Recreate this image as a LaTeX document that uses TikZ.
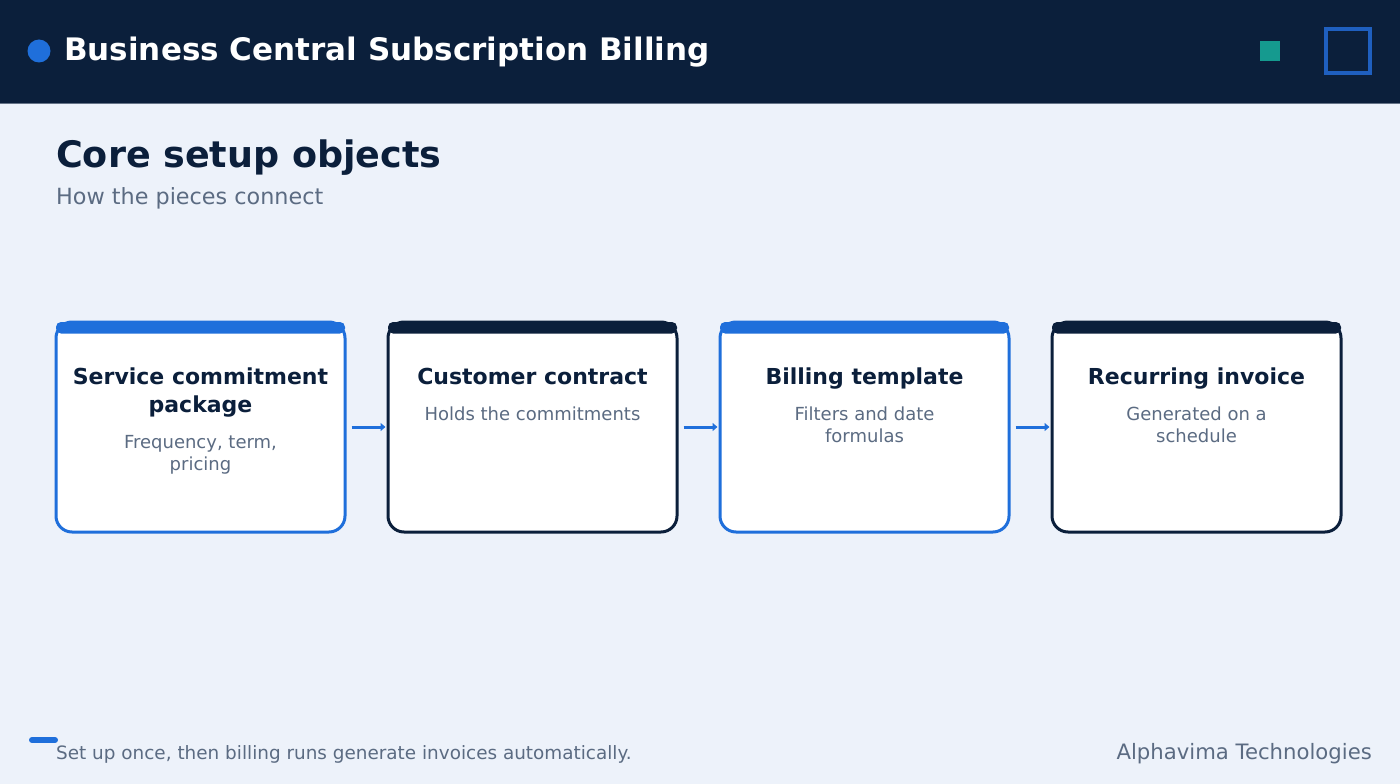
\documentclass[tikz,border=0pt]{standalone}
\usepackage{fontspec}
\setmainfont{DejaVu Sans}
\usetikzlibrary{arrows.meta}
\definecolor{navy}{HTML}{0B1F3B}
\definecolor{bg}{HTML}{EDF2FA}
\definecolor{accent}{HTML}{1F6FDB}
\definecolor{teal}{HTML}{159A8F}
\definecolor{sqblue}{HTML}{1F5FBF}
\definecolor{muted}{HTML}{5B6B82}
\tikzset{
  card/.style={draw=#1, line width=3pt, fill=white, rounded corners=16pt, minimum width=289pt, minimum height=210pt, inner sep=0pt},
  ctitle/.style={font=\fontsize{22}{28}\selectfont\bfseries, text=navy, align=center, anchor=base, inner sep=0pt},
  csub/.style={font=\fontsize{18}{22}\selectfont, text=muted, align=center, anchor=base, inner sep=0pt},
  conn/.style={draw=accent, line width=3pt, -{Triangle[length=5pt,width=8pt]}},
}
\begin{document}
\begin{tikzpicture}[x=1pt,y=-1pt]
\useasboundingbox (0,0) rectangle (1400,784);
\fill[bg] (0,0) rectangle (1400,784);
% header
\fill[navy] (0,0) rectangle (1400,103);
\draw[color=navy!60!bg, line width=1pt] (0,103.5) -- (1400,103.5);
\fill[accent] (39,51) circle (11.5);
\node[anchor=base west, inner sep=0pt, text=white, font=\fontsize{31}{36}\selectfont\bfseries] (htitle) at (64,61) {Business Central Subscription Billing};
\fill[teal] (1260,41) rectangle (1280,61);
\draw[sqblue, line width=4pt] (1326,29) rectangle (1370,73);
% headings
\node[anchor=base west, inner sep=0pt, text=navy, font=\fontsize{36.5}{42}\selectfont\bfseries] (title) at (56,167) {Core setup objects};
\node[anchor=base west, inner sep=0pt, text=muted, font=\fontsize{22.3}{26}\selectfont] (sub) at (56,204) {How the pieces connect};
% cards
\foreach \i/\x/\c in {1/200.5/accent, 2/532.5/navy, 3/864.5/accent, 4/1196.5/navy}{
  \node[card=\c] (c\i) at (\x,427) {};
  \fill[\c, rounded corners=5pt] (\x-144.5,322) rectangle (\x+144.5,333.5);
}
\node[ctitle] (t1) at (200.5,412) {Service commitment\\package};
\node[csub] (s1) at (200.5,470) {Frequency, term,\\pricing};
\node[ctitle] (t2) at (532.5,384) {Customer contract};
\node[csub] (s2) at (532.5,420) {Holds the commitments};
\node[ctitle] (t3) at (864.5,384) {Billing template};
\node[csub] (s3) at (864.5,442) {Filters and date\\formulas};
\node[ctitle] (t4) at (1196.5,384) {Recurring invoice};
\node[csub] (s4) at (1196.5,442) {Generated on a\\schedule};
% connectors
\draw[conn] ([xshift=5pt]c1.east) -- ([xshift=-1pt]c2.west);
\draw[conn] ([xshift=5pt]c2.east) -- ([xshift=-1pt]c3.west);
\draw[conn] ([xshift=5pt]c3.east) -- ([xshift=-1pt]c4.west);
% footer
\draw[accent, line width=6pt, line cap=round] (32,740) -- (55,740);
\node[anchor=base west, inner sep=0pt, text=muted, font=\fontsize{18.4}{22}\selectfont] (foot) at (56,759) {Set up once, then billing runs generate invoices automatically.};
\node[anchor=base east, inner sep=0pt, text=muted, font=\fontsize{21.2}{26}\selectfont] (brand) at (1372,759) {Alphavima Technologies};
\end{tikzpicture}
\end{document}
